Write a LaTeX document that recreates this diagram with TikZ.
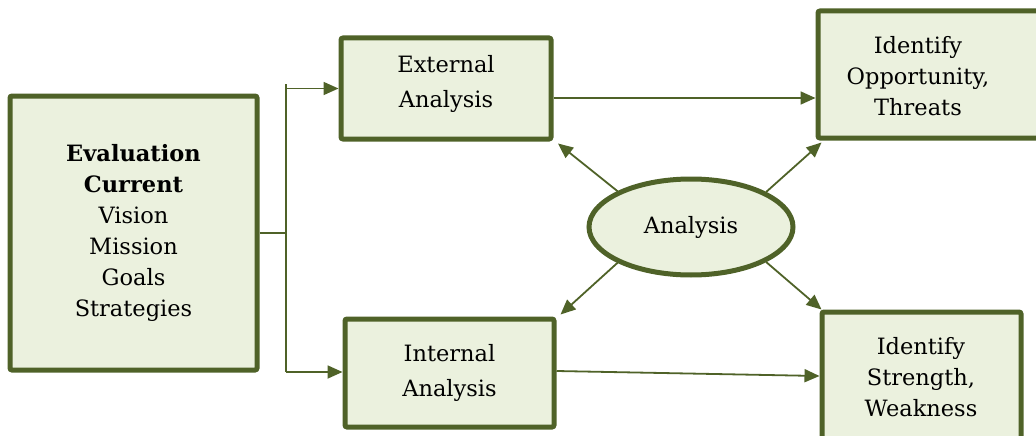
\documentclass[tikz,border=0pt]{standalone}
\usepackage{fontspec}
\setmainfont{DejaVu Serif}
\usetikzlibrary{shapes.geometric,arrows.meta}
\definecolor{olivedk}{RGB}{79,98,40}
\definecolor{palegreen}{RGB}{235,241,222}
\tikzset{
  box/.style={draw=olivedk, fill=palegreen, line width=5pt, rounded corners=2pt, inner sep=0pt, align=center},
  txt/.style={align=center, inner sep=0pt},
  conn/.style={draw=olivedk, line width=1.8pt},
  arr/.style={conn, -{Triangle[length=15pt,width=13pt]}},
  fs/.style={font=\fontsize{22.5}{31}\selectfont},
  fw/.style={font=\fontsize{22.5}{35}\selectfont}
}
\begin{document}
\begin{tikzpicture}[x=1pt,y=-1pt]
\useasboundingbox (0,0) rectangle (1036,436);
\clip (0,0) rectangle (1036,436);

% boxes
\node[box, fs, minimum width=247pt, minimum height=274pt] (eval) at (133.5,233)
  {\textbf{Evaluation}\\\textbf{Current}\\Vision\\Mission\\Goals\\Strategies};
\node[box, minimum width=210pt, minimum height=101pt] (ext) at (446,88.5) {};
\node[txt, fw] (exttxt) at (446,84) {External\\Analysis};
\node[box, fw, minimum width=209pt, minimum height=108pt] (int) at (449.5,373)
  {Internal\\Analysis};
\node[box, minimum width=242pt, minimum height=127pt] (opp) at (939,74.5) {};
\node[txt, fs] (opptxt) at (918,76) {Identify\\Opportunity,\\Threats};
\node[box, minimum width=199pt, minimum height=158pt] (str) at (921.5,391) {};
\node[txt, fs] (strtxt) at (921,377) {Identify\\Strength,\\Weakness};
\node[ellipse, draw=olivedk, fill=palegreen, line width=5pt, inner sep=0pt,
      minimum width=204pt, minimum height=96pt, font=\fontsize{22.5}{31}\selectfont] (ana) at (691,227) {Analysis};

% bracket
\coordinate (bt) at (286,84);
\coordinate (bb) at (286,372);
\draw[conn] (eval.east) -- (eval.east -| bt);
\draw[conn] (bt) -- (bb);
\draw[arr] (bt |- ext.west) -- (ext.west);
\draw[arr] (bb) -- (bb -| int.west);

% horizontal arrows
\draw[arr] ([yshift=-9.5pt]ext.east) -- ([yshift=-9.5pt]ext.east -| opp.west);
\draw[arr] ([yshift=2pt]int.east) -- ([yshift=15pt]str.west);

% diagonal arrows
\draw[arr] (ana.154) -- ([xshift=4.5pt,yshift=-2pt]ext.south east);
\draw[arr] (ana.25) -- ([xshift=6pt,yshift=-2pt]opp.south west);
\draw[arr] (ana.206) -- ([xshift=4pt,yshift=2pt]int.north east);
\draw[arr] (ana.335) -- ([xshift=2pt]str.north west);
\end{tikzpicture}
\end{document}
